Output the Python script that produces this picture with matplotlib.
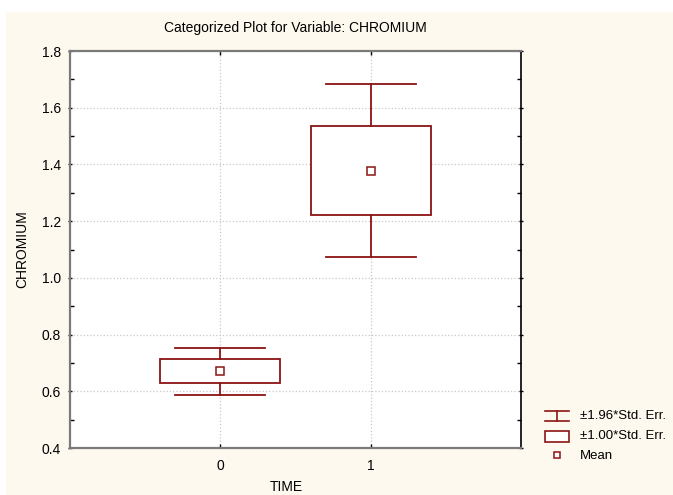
import matplotlib.pyplot as plt
import matplotlib.patches as mpatches
from matplotlib.lines import Line2D
from matplotlib.ticker import MultipleLocator

# values
time_levels = [0, 1]
mean_chromium = [0.671, 1.378]
std_err = [0.0425, 0.156]

dark_red = '#8B1414'
cream = '#FEF9EE'

plt.rcParams['font.family'] = ['Liberation Sans', 'DejaVu Sans']

fig = plt.figure(figsize=(6.73, 4.95), dpi=100, facecolor='white')
fig.patches.append(mpatches.Rectangle((6 / 673, 0), 1, 1 - 12 / 495, transform=fig.transFigure,
                                      facecolor=cream, edgecolor='none', zorder=-10))

ax = fig.add_axes([70 / 673, 47 / 495, 451 / 673, 397 / 495])
ax.set_facecolor('white')

box_half = 0.4
cap_half = 0.3
for x, m, se in zip(time_levels, mean_chromium, std_err):
    lo1, hi1 = m - se, m + se
    lo2, hi2 = m - 1.96 * se, m + 1.96 * se
    ax.add_patch(mpatches.Rectangle((x - box_half, lo1), 2 * box_half, hi1 - lo1,
                                    facecolor='white', edgecolor=dark_red, lw=1.3, zorder=3))
    ax.plot([x, x], [hi1, hi2], color=dark_red, lw=1.3, zorder=3)
    ax.plot([x, x], [lo2, lo1], color=dark_red, lw=1.3, zorder=3)
    ax.plot([x - cap_half, x + cap_half], [hi2, hi2], color=dark_red, lw=1.3, zorder=3)
    ax.plot([x - cap_half, x + cap_half], [lo2, lo2], color=dark_red, lw=1.3, zorder=3)
    ax.plot(x, m, marker='s', ms=5.5, mfc='white', mec=dark_red, mew=1.1, zorder=4)

ax.set_xlim(-1, 2)
ax.set_ylim(0.4, 1.8)
ax.set_xticks(time_levels)
ax.set_xticklabels([str(t) for t in time_levels])
ax.yaxis.set_major_locator(MultipleLocator(0.2))
ax.yaxis.set_minor_locator(MultipleLocator(0.1))
ax.yaxis.set_major_formatter(plt.FormatStrFormatter('%.1f'))
ax.grid(True, which='major', color='#C8C8C8', ls=':', lw=0.9)
ax.set_axisbelow(True)

ax.tick_params(axis='y', which='major', direction='inout', length=3, width=1,
               labelsize=10, pad=5, right=True)
ax.tick_params(axis='y', which='minor', direction='in', length=3, width=1, right=True)
ax.tick_params(axis='x', direction='in', length=3, width=1, labelsize=10, pad=8, top=True)

for side in ['left', 'top', 'bottom']:
    ax.spines[side].set_color('#7A7A7A')
    ax.spines[side].set_linewidth(1.6)
ax.spines['right'].set_color('black')
ax.spines['right'].set_linewidth(1.2)

ax.set_title('Categorized Plot for Variable: CHROMIUM', fontsize=10, pad=14)
ax.set_xlabel('TIME', fontsize=10, va='center')
ax.xaxis.set_label_coords((286 - 70) / 451, -39 / 397)
ax.set_ylabel('CHROMIUM', fontsize=10, va='center')
ax.yaxis.set_label_coords(-48 / 451, 0.5)

# legend drawn in pixel-based figure coordinates
def fx(px):
    return px / 673

def fy(py):
    return 1 - py / 495

tr = fig.transFigure
for yy in (411, 421):
    fig.add_artist(Line2D([fx(545), fx(569)], [fy(yy), fy(yy)], color=dark_red, lw=1.2, transform=tr))
fig.add_artist(Line2D([fx(557), fx(557)], [fy(411), fy(421)], color=dark_red, lw=1.2, transform=tr))
fig.add_artist(mpatches.Rectangle((fx(545), fy(442)), fx(569) - fx(545), fy(431) - fy(442),
                                  facecolor='white', edgecolor=dark_red, lw=1.2, transform=tr))
fig.add_artist(Line2D([fx(557)], [fy(455)], marker='s', ms=5, mfc='white', mec=dark_red,
                      mew=1.1, transform=tr))
for label, yy in [('±1.96*Std. Err.', 416), ('±1.00*Std. Err.', 436), ('Mean', 456)]:
    fig.text(fx(580), fy(yy), label, fontsize=9.5, va='center', ha='left')

fig.savefig('out.png', dpi=100, facecolor=fig.get_facecolor())
